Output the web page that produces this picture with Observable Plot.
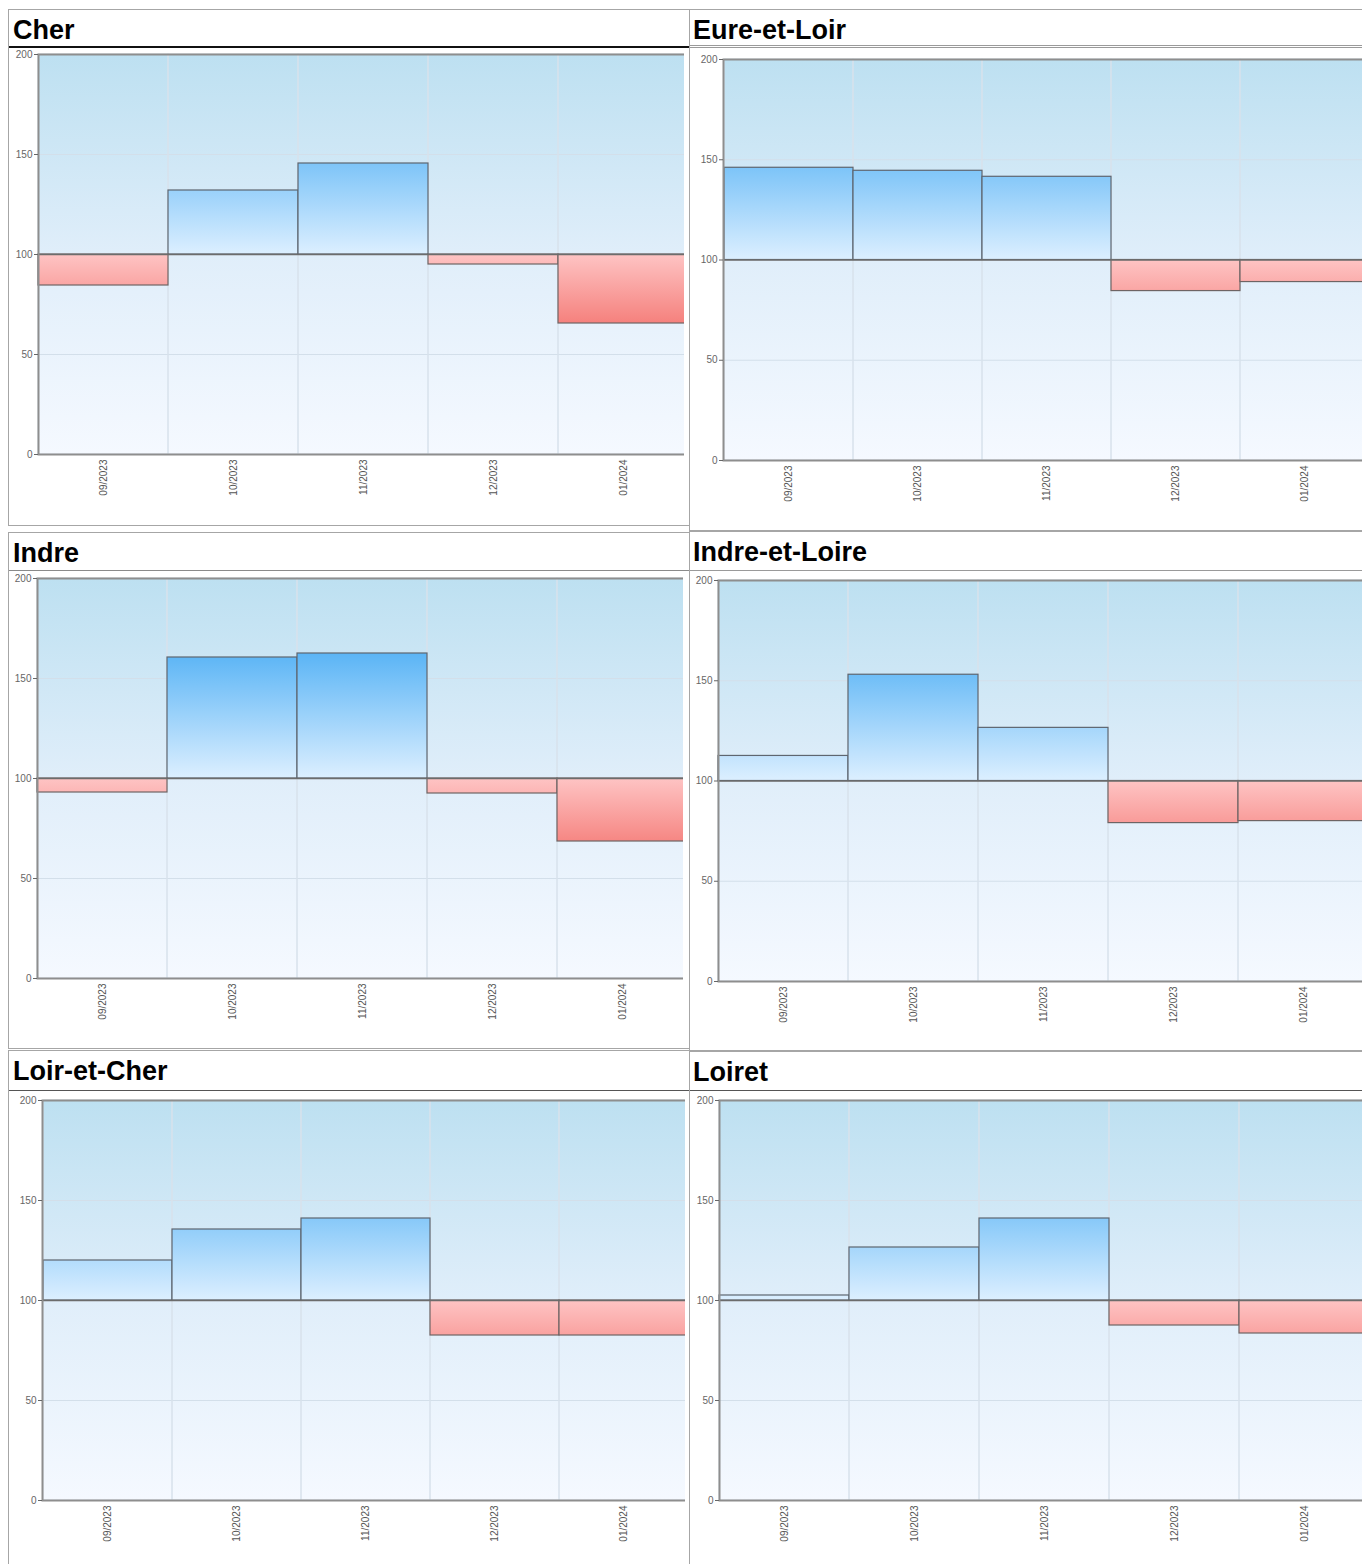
<!DOCTYPE html>
<html>
<head>
<meta charset="utf-8">
<script src="https://cdn.jsdelivr.net/npm/d3@7"></script>
<script src="https://cdn.jsdelivr.net/npm/@observablehq/plot@0.6"></script>
<style>
  body { margin: 0; background: #fff; font-family: "Liberation Sans", Arial, sans-serif; }
  #page { position: relative; width: 1362px; height: 1564px; overflow: hidden; }
  .panel { position: absolute; border: 1px solid #a6a6a6; box-sizing: border-box; background: #fff; }
  .title { position: absolute; font-weight: bold; font-size: 27px; line-height: 27px; color: #000; white-space: nowrap; }
  .rule { position: absolute; }
  .clip { position: absolute; overflow: hidden; }
  .clip svg { max-width: none !important; }
</style>
</head>
<body>
<div id="page"></div>
<script>
// Monthly index per département (base 100)
const months = ["09/2023", "10/2023", "11/2023", "12/2023", "01/2024"];
const departements = ["Cher", "Eure-et-Loir", "Indre", "Indre-et-Loire", "Loir-et-Cher", "Loiret"];
const cher = [84.5, 132, 145.5, 95, 65.5];
const eureEtLoir = [146, 144.5, 141.5, 84.5, 89];
const indre = [93, 160.5, 162.5, 92.5, 68.5];
const indreEtLoire = [112.5, 153, 126.5, 79, 80];
const loirEtCher = [120, 135.5, 141, 82.5, 82.5];
const loiret = [102.5, 126.5, 141, 87.5, 83.5];
const yTicks = [0, 50, 100, 150, 200];
const baseline = 100;

const series = [cher, eureEtLoir, indre, indreEtLoire, loirEtCher, loiret];

// Panel geometry on the page
const layout = [
  {left: 8,   top: 9,    bottom: 526,  rule: 46,   ruleStyle: "2px solid #111",     x0: 38,  y200: 54,   y0: 454,  band: 130,   clipR: 684},
  {left: 689, top: 9,    bottom: 531,  rule: 45,   ruleStyle: "3px double #9a9a9a", x0: 723, y200: 59,   y0: 460,  band: 129.3, clipR: 1362},
  {left: 8,   top: 532,  bottom: 1049, rule: 570,  ruleStyle: "1px solid #8a8a8a",  x0: 37,  y200: 578,  y0: 978,  band: 130,   clipR: 683},
  {left: 689, top: 531,  bottom: 1051, rule: 570,  ruleStyle: "1px solid #9a9a9a",  x0: 718, y200: 580,  y0: 981,  band: 130,   clipR: 1362},
  {left: 8,   top: 1050, bottom: 1580, rule: 1090, ruleStyle: "1px solid #555",     x0: 42,  y200: 1100, y0: 1500, band: 129.4, clipR: 685},
  {left: 689, top: 1051, bottom: 1580, rule: 1090, ruleStyle: "1px solid #555",     x0: 719, y200: 1100, y0: 1500, band: 130,   clipR: 1362}
];

const page = document.getElementById("page");

departements.forEach((name, i) => {
  const L = layout[i];
  const values = series[i];
  const data = months.map((month, k) => ({month, value: values[k]}));

  // panel box
  const panel = document.createElement("div");
  panel.className = "panel";
  panel.style.left = L.left + "px";
  panel.style.top = L.top + "px";
  panel.style.width = (i % 2 === 0 ? 682 : 690) + "px";
  panel.style.height = (L.bottom - L.top) + "px";
  page.appendChild(panel);

  const title = document.createElement("div");
  title.className = "title";
  title.textContent = name;
  title.style.left = (L.left + (i % 2 === 0 ? 5 : 4)) + "px";
  title.style.top = (L.top + 8) + "px";
  page.appendChild(title);

  const rule = document.createElement("div");
  rule.className = "rule";
  rule.style.left = (L.left + 1) + "px";
  rule.style.width = (i % 2 === 0 ? 680 : 690) + "px";
  rule.style.top = L.rule + "px";
  rule.style.borderTop = L.ruleStyle;
  page.appendChild(rule);

  // chart
  const svgLeft = L.left + 1;
  const svgTop = L.rule + 3;
  const ml = L.x0 - svgLeft;
  const mt = L.y200 - svgTop;
  const innerH = L.y0 - L.y200;
  const mb = 62;
  const mr = 2;
  const width = ml + 5 * L.band + mr;
  const height = mt + innerH + mb;
  const yPix = v => mt + (200 - v) / 200 * innerH;

  const defs = () => {
    const g = d3.create("svg:defs");
    const bg = g.append("linearGradient").attr("id", `bg${i}`)
      .attr("gradientUnits", "userSpaceOnUse")
      .attr("x1", 0).attr("x2", 0).attr("y1", yPix(200)).attr("y2", yPix(0));
    bg.append("stop").attr("offset", "0").attr("stop-color", "#bde0f1");
    bg.append("stop").attr("offset", "0.5").attr("stop-color", "#e0eefa");
    bg.append("stop").attr("offset", "1").attr("stop-color", "#f5f9ff");
    const up = g.append("linearGradient").attr("id", `up${i}`)
      .attr("gradientUnits", "userSpaceOnUse")
      .attr("x1", 0).attr("x2", 0).attr("y1", yPix(165)).attr("y2", yPix(100));
    up.append("stop").attr("offset", "0").attr("stop-color", "#55b2f5");
    up.append("stop").attr("offset", "1").attr("stop-color", "#dcefff");
    const down = g.append("linearGradient").attr("id", `down${i}`)
      .attr("gradientUnits", "userSpaceOnUse")
      .attr("x1", 0).attr("x2", 0).attr("y1", yPix(100)).attr("y2", yPix(65));
    down.append("stop").attr("offset", "0").attr("stop-color", "#fec4c4");
    down.append("stop").attr("offset", "1").attr("stop-color", "#f5807c");
    return g.node();
  };

  const chart = Plot.plot({
    width, height,
    marginLeft: ml, marginTop: mt, marginBottom: mb, marginRight: mr,
    style: {background: "transparent", fontFamily: "Liberation Sans, Arial, sans-serif", overflow: "visible", maxWidth: "none"},
    x: {type: "band", domain: months, padding: 0, label: null},
    y: {domain: [0, 200], label: null},
    marks: [
      defs,
      Plot.frame({fill: `url(#bg${i})`, stroke: "none"}),
      Plot.ruleY([50, 150], {stroke: "#d3dfea", strokeWidth: 1}),
      Plot.barY(months, {x: d => d, y1: 0, y2: 200, fill: "none", stroke: "#d8e2ec", strokeWidth: 1}),
      Plot.barY(data.filter(d => d.value >= baseline), {
        x: "month", y1: baseline, y2: "value",
        fill: `url(#up${i})`, stroke: "#5e6670", strokeWidth: 1.2
      }),
      Plot.barY(data.filter(d => d.value < baseline), {
        x: "month", y1: baseline, y2: "value",
        fill: `url(#down${i})`, stroke: "#6e6464", strokeWidth: 1.2
      }),
      Plot.ruleY([baseline], {stroke: "#6c6c6c", strokeWidth: 1.4}),
      Plot.frame({stroke: "#8e8e8e", strokeWidth: 2}),
      Plot.axisY({ticks: yTicks, tickSize: 4, tickPadding: 2, fontSize: 10, color: "#666", label: null}),
      Plot.axisX({tickSize: 0, tickPadding: 5, tickRotate: -90, fontSize: 10, color: "#555", label: null})
    ]
  });

  const clip = document.createElement("div");
  clip.className = "clip";
  clip.style.left = svgLeft + "px";
  clip.style.top = svgTop + "px";
  clip.style.width = (L.clipR - svgLeft) + "px";
  clip.style.height = height + "px";
  clip.appendChild(chart);
  page.appendChild(clip);
});
</script>
</body>
</html>
